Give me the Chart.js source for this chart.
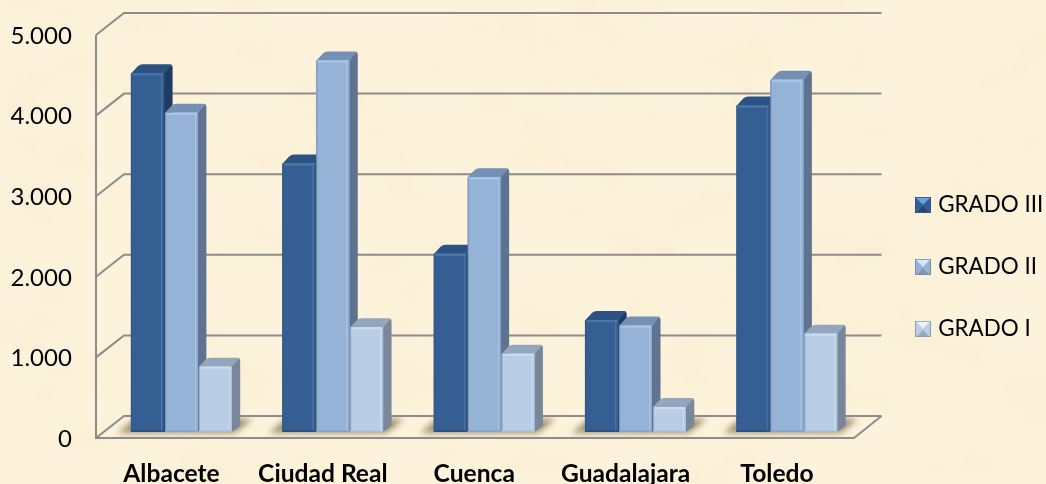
<!DOCTYPE html>
<html>
<head>
<meta charset="utf-8">
<title>Grados por provincia</title>
<script src="https://cdn.jsdelivr.net/npm/chart.js@4"></script>
<style>
    html, body { margin: 0; padding: 0; width: 1046px; height: 484px; overflow: hidden; }
    body {
        background-color: #fdf3dc;
        background-image: url("data:image/svg+xml,%3Csvg xmlns='http://www.w3.org/2000/svg' width='1046' height='484'%3E%3Cfilter id='n' x='0' y='0' width='100%25' height='100%25'%3E%3CfeTurbulence type='fractalNoise' baseFrequency='0.014 0.022' numOctaves='4' seed='7'/%3E%3CfeColorMatrix values='0 0 0 0 0.96 0 0 0 0 0.86 0 0 0 0 0.66 2 0 0 0 -0.8'/%3E%3C/filter%3E%3Crect width='1046' height='484' filter='url(%23n)'/%3E%3C/svg%3E");
    }
    canvas { display: block; }
</style>
</head>
<body>
<canvas id="gradosChart" width="1046" height="484"></canvas>
<script>
const categories = ['Albacete', 'Ciudad Real', 'Cuenca', 'Guadalajara', 'Toledo'];
const gradoIII = [4450, 3330, 2210, 1390, 4050];
const gradoII = [3960, 4610, 3160, 1320, 4370];
const gradoI = [810, 1300, 970, 310, 1220];
const tickLabels = ['0', '1.000', '2.000', '3.000', '4.000', '5.000'];

const FONT = 'Lato, "Open Sans", sans-serif';
const palette = [
    { front: '#355f93', side: '#1f3d63', top: '#2b5283', light: '#4a76ab', dark: '#2a4d7a', edge: '#2f5585', tip: '#6f9fdc', base: '#27466f' },
    { front: '#95b3d7', side: '#5f7290', top: '#7490b5', light: '#a8c5ea', dark: '#86a3c6', edge: '#7a8fab', tip: '#d5e8fc', base: '#7f95b2' },
    { front: '#b9cde5', side: '#788799', top: '#93a6bd', light: '#c8dcf3', dark: '#a9bdd4', edge: '#8f9fb3', tip: '#eaf2fb', base: '#98a9be' }
];

// small bevelled square for the legend
function legendMarker(c) {
    const cv = document.createElement('canvas');
    cv.width = 16;
    cv.height = 16;
    const g = cv.getContext('2d');
    const tri = (color, pts) => {
        g.fillStyle = color;
        g.beginPath();
        pts.forEach((p, i) => i ? g.lineTo(p[0], p[1]) : g.moveTo(p[0], p[1]));
        g.closePath();
        g.fill();
    };
    g.fillStyle = c.front;
    g.fillRect(0, 0, 16, 16);
    tri(c.tip, [[1, 1], [15, 1], [8, 8]]);
    tri(c.base, [[2, 16], [14, 16], [8, 9]]);
    g.strokeStyle = c.edge;
    g.strokeRect(0.5, 0.5, 15, 15);
    return cv;
}

// frame of the 3D box: walls, gridlines and floor
const frame3d = {
    id: 'frame3d',
    beforeDatasetsDraw(chart) {
        const { ctx, scales: { y }, chartArea } = chart;
        const frontX = 96, backX = 124, rightX = 881.5, frontRightX = 854;
        ctx.save();
        ctx.strokeStyle = '#8c8c8c';
        ctx.lineWidth = 2;
        tickLabels.forEach((_, i) => {
            const py = y.getPixelForValue(i * 1000);
            ctx.beginPath();
            ctx.moveTo(frontX, py + 6);
            ctx.lineTo(backX, py - 16);
            ctx.lineTo(rightX, py - 16);
            ctx.stroke();
        });
        const zero = y.getPixelForValue(0);
        ctx.beginPath();
        ctx.moveTo(frontX, y.getPixelForValue(5000) + 6);
        ctx.lineTo(frontX, zero + 6);
        ctx.lineTo(frontRightX, zero + 6);
        ctx.lineTo(rightX, zero - 16);
        ctx.stroke();
        ctx.restore();

        // soft shadows on the floor
        const first = chart.getDatasetMeta(0).data;
        const last = chart.getDatasetMeta(2).data;
        ctx.save();
        ctx.beginPath();
        ctx.rect(chartArea.left - 12, zero - 15, 780, 20);
        ctx.clip();
        ctx.filter = 'blur(3px)';
        ctx.fillStyle = 'rgba(125,105,70,0.75)';
        first.forEach((bar, i) => {
            const L = bar.x - bar.width / 2;
            const R = last[i].x + last[i].width / 2;
            ctx.beginPath();
            ctx.moveTo(L - 13, zero + 1);
            ctx.lineTo(R + 3, zero + 1);
            ctx.lineTo(R + 20, zero - 13);
            ctx.lineTo(L + 4, zero - 13);
            ctx.closePath();
            ctx.fill();
        });
        ctx.restore();
    },
    // bars painted left to right so the front of each covers the side of its neighbour
    afterDatasetsDraw(chart) {
        const { ctx } = chart;
        const dx = 8.5, dy = -9;
        chart.data.datasets.forEach((ds, di) => {
            const c = palette[di];
            chart.getDatasetMeta(di).data.forEach(bar => {
                const l = bar.x - bar.width / 2 + 0.5;
                const r = bar.x + bar.width / 2 - 0.5;
                const t = bar.y;
                const b = bar.base;
                ctx.save();
                // side
                ctx.fillStyle = c.side;
                ctx.beginPath();
                ctx.moveTo(r, t);
                ctx.lineTo(r + dx - 3, t + dy + 1);
                ctx.quadraticCurveTo(r + dx, t + dy, r + dx, t + dy + 3);
                ctx.lineTo(r + dx, b + dy + 3);
                ctx.lineTo(r, b);
                ctx.closePath();
                ctx.fill();
                // top
                ctx.fillStyle = c.top;
                ctx.beginPath();
                ctx.moveTo(l, t);
                ctx.lineTo(l + dx - 2, t + dy + 2);
                ctx.quadraticCurveTo(l + dx, t + dy, l + dx + 3, t + dy);
                ctx.lineTo(r + dx - 3, t + dy);
                ctx.quadraticCurveTo(r + dx, t + dy, r + dx - 1, t + dy + 1);
                ctx.lineTo(r, t);
                ctx.closePath();
                ctx.fill();
                // front with bevel
                ctx.fillStyle = c.front;
                ctx.fillRect(l, t, r - l, b - t);
                const g = ctx.createLinearGradient(l, 0, r, 0);
                g.addColorStop(0, c.edge);
                g.addColorStop(0.05, c.front);
                g.addColorStop(0.9, c.front);
                g.addColorStop(0.92, c.light);
                g.addColorStop(1, c.dark);
                ctx.fillStyle = g;
                ctx.fillRect(l, t, r - l, b - t);
                ctx.fillStyle = c.light;
                ctx.fillRect(l + 1, t, r - l - 2, 2);
                ctx.fillStyle = c.dark;
                ctx.fillRect(l, b - 1.5, r - l, 1.5);
                ctx.restore();
            });
        });
    },
    // legend sits lower and further right than the layout would put it
    beforeDraw(chart) {
        const lg = chart.legend;
        const w = lg.right - lg.left;
        lg.left = 879.4;
        lg.right = lg.left + w;
        lg.top = 154;
        lg.bottom = 484;
    }
};

const makeSet = (label, data, i) => ({
    label,
    data,
    backgroundColor: palette[i].front,
    borderWidth: 0,
    categoryPercentage: 0.67,
    barPercentage: 1
});

new Chart(document.getElementById('gradosChart'), {
    type: 'bar',
    data: {
        labels: categories,
        datasets: [
            makeSet('GRADO III', gradoIII, 0),
            makeSet('GRADO II', gradoII, 1),
            makeSet('GRADO I', gradoI, 2)
        ]
    },
    plugins: [frame3d],
    options: {
        responsive: false,
        animation: false,
        layout: { padding: { top: 29, right: 9.5, left: 0, bottom: 0 } },
        plugins: {
            tooltip: { enabled: false },
            title: { display: false },
            legend: {
                position: 'right',
                align: 'start',
                labels: {
                    color: '#000',
                    font: { family: FONT, size: 22.4 },
                    usePointStyle: true,
                    pointStyleWidth: 8,
                    padding: 39.6,
                    generateLabels: chart => chart.data.datasets.map((ds, i) => ({
                        text: ds.label,
                        pointStyle: legendMarker(palette[i]),
                        datasetIndex: i,
                        lineWidth: 0
                    }))
                }
            }
        },
        scales: {
            x: {
                grid: { display: false, drawTicks: false },
                border: { display: false },
                afterFit(scale) { scale.height = 52; },
                ticks: {
                    color: '#000',
                    font: { family: FONT, size: 24.6, weight: 'bold' },
                    padding: 27,
                    labelOffset: -10,
                    maxRotation: 0,
                    autoSkip: false
                }
            },
            y: {
                min: 0,
                max: 5000,
                grid: { display: false, drawTicks: false },
                border: { display: false },
                afterFit(scale) {
                    scale.width = 105.8;
                    scale.paddingTop = 0;
                    scale.paddingBottom = 0;
                },
                afterBuildTicks(scale) {
                    scale.ticks = tickLabels.map((_, i) => ({ value: i * 1000 }));
                },
                ticks: {
                    color: '#000',
                    font: { family: FONT, size: 24 },
                    padding: 34,
                    labelOffset: 7,
                    callback: (value) => tickLabels[value / 1000]
                }
            }
        }
    }
});
</script>
</body>
</html>
